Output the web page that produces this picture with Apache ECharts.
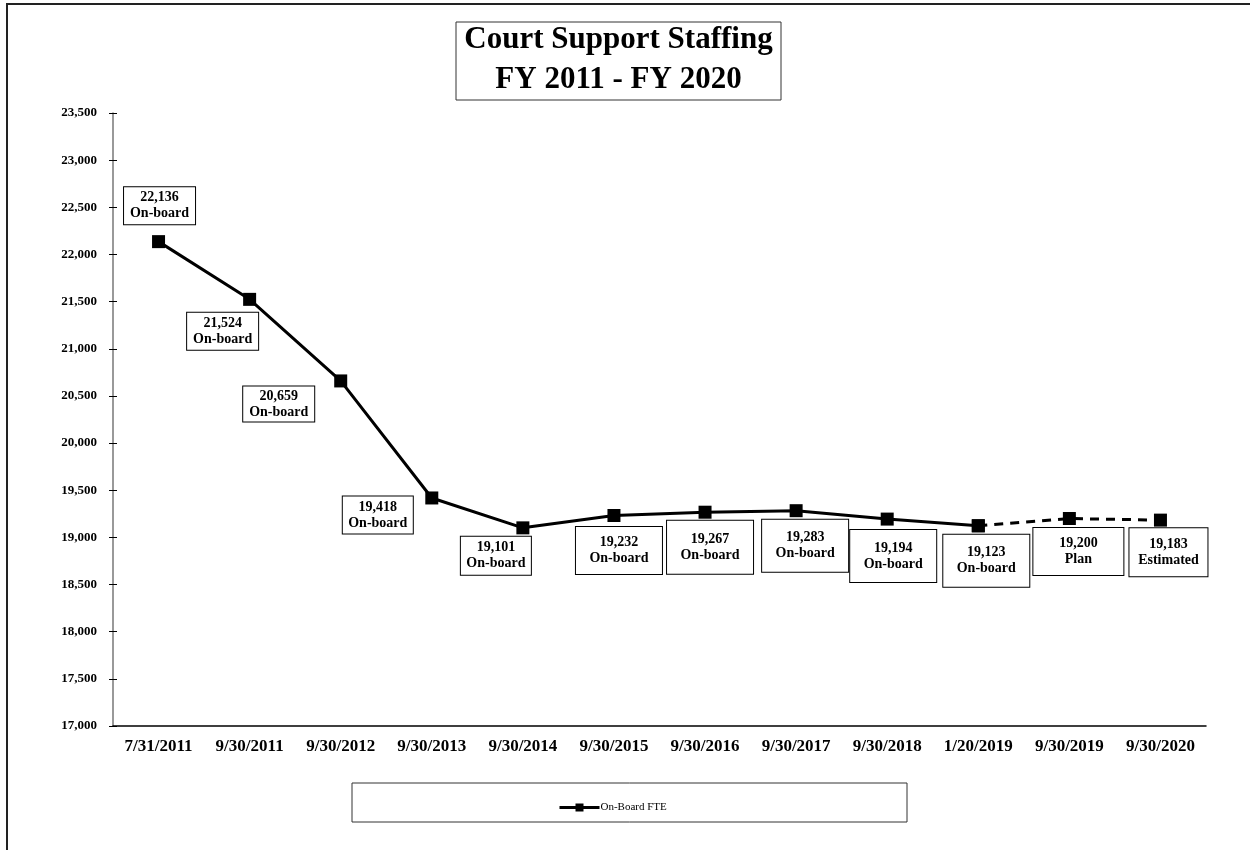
<!DOCTYPE html>
<html>
<head>
    <meta charset="utf-8"/>
    <title>Court Support Staffing</title>
    <script src="https://cdn.jsdelivr.net/npm/echarts@6/dist/echarts.min.js"></script>
</head>
<body style="margin:0;">
<div id="main" style="width: 1250px;height:850px;"></div>
<script type="text/javascript">
    // data
    var dates = ['7/31/2011', '9/30/2011', '9/30/2012', '9/30/2013', '9/30/2014', '9/30/2015',
        '9/30/2016', '9/30/2017', '9/30/2018', '1/20/2019', '9/30/2019', '9/30/2020'];
    var onBoard = [22136, 21524, 20659, 19418, 19101, 19232, 19267, 19283, 19194, 19123, 19200, 19183];
    var statusText = ['On-board', 'On-board', 'On-board', 'On-board', 'On-board', 'On-board',
        'On-board', 'On-board', 'On-board', 'On-board', 'Plan', 'Estimated'];
    var lastActual = 9;   // points after this one are plan / estimate (dashed)

    // where each value box sits relative to its point, and its size
    var boxOffset = [[1, -36], [-27, 32], [-62, 23], [-54, 17], [-27, 28], [5, 35],
        [5, 35], [9, 35], [6, 37], [8, 35], [9, 33], [8, 32]];
    var boxSize = [[71, 37], [71, 37], [71, 34], [70, 37], [70, 38], [86, 47],
        [86, 53], [86, 52], [86, 52], [86, 52], [90, 47], [78, 48]];

    var font = 'Liberation Serif, Times New Roman, serif';

    function fmt(v) {
        return v.toLocaleString('en-US');
    }

    function item(i, show) {
        var w = boxSize[i][0], h = boxSize[i][1];
        var pt = i < 5 ? 3 : 6;
        return {
            value: onBoard[i],
            label: {
                show: show,
                position: 'inside',
                offset: boxOffset[i],
                formatter: fmt(onBoard[i]) + '\n' + statusText[i],
                width: w,
                padding: [pt, 0, Math.max(h - 32 - pt, 0), 0],
                lineHeight: 16,
                align: 'center',
                verticalAlign: 'middle',
                fontFamily: font,
                fontWeight: 'bold',
                fontSize: 14,
                color: '#000',
                backgroundColor: '#fff',
                borderColor: '#000',
                borderWidth: 1
            }
        };
    }

    var solidData = onBoard.map(function (v, i) {
        return i <= lastActual ? item(i, true) : '-';
    });
    var dashedData = onBoard.map(function (v, i) {
        return i >= lastActual ? item(i, i > lastActual) : '-';
    });

    var myChart = echarts.init(document.getElementById('main'));
    var option = {
        animation: false,
        backgroundColor: '#fff',
        grid: {left: 113, right: 44, top: 113, bottom: 124, containLabel: false},
        legend: {
            data: ['On-Board FTE'],
            left: 553,
            top: 797,
            itemWidth: 40,
            itemHeight: 10,
            itemGap: 2,
            lineStyle: {width: 3},
            textStyle: {fontFamily: font, fontSize: 11, color: '#000', padding: [0, 0, 0, -4]}
        },
        xAxis: [{
            type: 'category',
            data: dates,
            axisLine: {lineStyle: {color: '#000', width: 1.5}},
            axisTick: {length: 5, lineStyle: {color: '#000'}},
            axisLabel: {fontFamily: font, fontWeight: 'bold', fontSize: 17, color: '#000', margin: 12}
        }, {
            type: 'category',
            data: dates,
            position: 'bottom',
            axisLine: {show: false},
            axisTick: {inside: true, length: 5, lineStyle: {color: '#000'}},
            axisLabel: {show: false}
        }],
        yAxis: [{
            type: 'value',
            min: 17000,
            max: 23500,
            interval: 500,
            splitLine: {show: false},
            axisLine: {show: true, lineStyle: {color: '#777', width: 1.5}},
            axisTick: {show: true, length: 4, lineStyle: {color: '#000'}},
            axisLabel: {
                fontFamily: font, fontWeight: 'bold', fontSize: 13, color: '#000', margin: 16,
                formatter: function (v) { return fmt(v); }
            }
        }, {
            type: 'value',
            min: 17000,
            max: 23500,
            interval: 500,
            position: 'left',
            splitLine: {show: false},
            axisLine: {show: false},
            axisTick: {show: true, inside: true, length: 4, lineStyle: {color: '#000'}},
            axisLabel: {show: false}
        }],
        series: [{
            name: 'On-Board FTE',
            type: 'line',
            data: solidData,
            symbol: 'rect',
            symbolSize: 13,
            lineStyle: {color: '#000', width: 3},
            itemStyle: {color: '#000'},
            z: 3
        }, {
            name: 'Projected',
            type: 'line',
            data: dashedData,
            symbol: 'rect',
            symbolSize: 13,
            lineStyle: {color: '#000', width: 3, type: [9, 7]},
            itemStyle: {color: '#000'},
            z: 3
        }],
        graphic: [{
            type: 'polyline',
            shape: {points: [[7, 850], [7, 4], [1250, 4]]},
            style: {stroke: '#222', lineWidth: 2, fill: null}
        }, {
            type: 'rect',
            shape: {x: 456, y: 22, width: 325, height: 78},
            style: {fill: '#fff', stroke: '#333', lineWidth: 1}
        }, {
            type: 'text',
            x: 618.5,
            y: 60,
            style: {
                text: 'Court Support Staffing\nFY 2011 - FY 2020',
                font: 'bold 31px ' + font,
                lineHeight: 40,
                align: 'center',
                verticalAlign: 'middle',
                fill: '#000'
            }
        }, {
            type: 'rect',
            z: -1,
            shape: {x: 352, y: 783, width: 555, height: 39},
            style: {fill: '#fff', stroke: '#333', lineWidth: 1}
        }]
    };
    myChart.setOption(option);
</script>
</body>
</html>
